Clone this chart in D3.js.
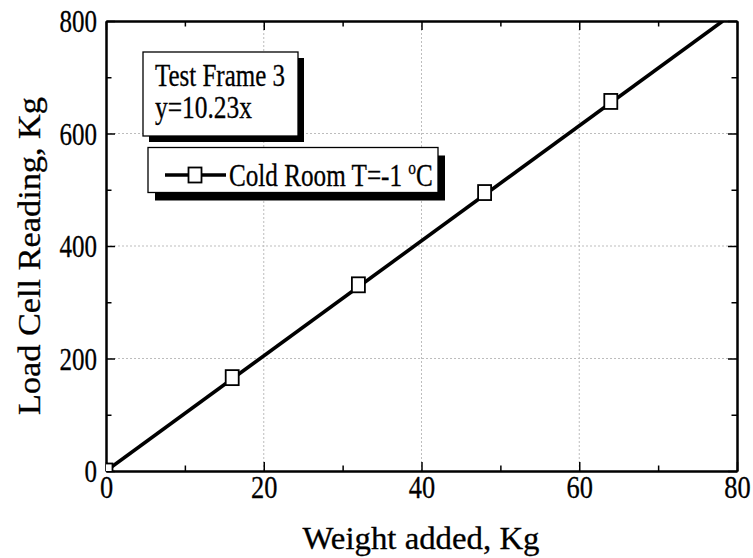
<!DOCTYPE html>
<html>
<head>
<meta charset="utf-8">
<script src="https://cdn.jsdelivr.net/npm/d3@7"></script>
<style>
  body { margin: 0; background: #fff; }
  text { font-family: "Liberation Serif", "Times New Roman", serif; fill: #000; stroke: #000; stroke-width: 0.3px; }
</style>
</head>
<body>
<div id="chart"></div>
<script>
// data
const weightAdded = [0, 16, 32, 48, 64];
const loadReading = [0, 166, 331, 495, 657];
const fitSlope = 10.23;
const xTicks = [0, 20, 40, 60, 80];
const xMinorTicks = [10, 30, 50, 70];
const yTicks = [0, 200, 400, 600, 800];
const yMinorTicks = [100, 300, 500, 700];
const xGrid = [20, 40, 60];
const yGrid = [200, 400, 600];

const width = 753;
const height = 558;
const margins = {top: 21, right: 16, bottom: 87, left: 106};
const chartWidth = width - margins.left - margins.right;
const chartHeight = height - margins.top - margins.bottom;
const serif = '"Liberation Serif", "Times New Roman", serif';

const svg = d3.select('#chart').append('svg')
  .attr('width', width)
  .attr('height', height);

const chart = svg.append('g')
  .attr('transform', `translate(${margins.left}, ${margins.top})`);

const xScale = d3.scaleLinear().domain([0, 80]).range([0, chartWidth]);
const yScale = d3.scaleLinear().domain([0, 800]).range([chartHeight, 0]);

chart.append('clipPath').attr('id', 'plot-clip')
  .append('rect')
  .attr('width', chartWidth)
  .attr('height', chartHeight);

/* dotted grid */
chart.selectAll('.grid-x')
  .data(xGrid)
  .enter()
  .append('line')
  .attr('x1', d => xScale(d)).attr('x2', d => xScale(d))
  .attr('y1', 0).attr('y2', chartHeight)
  .attr('stroke', '#bdbdbd').attr('stroke-width', 1).attr('stroke-dasharray', '2,2');

chart.selectAll('.grid-y')
  .data(yGrid)
  .enter()
  .append('line')
  .attr('x1', 0).attr('x2', chartWidth)
  .attr('y1', d => yScale(d)).attr('y2', d => yScale(d))
  .attr('stroke', '#bdbdbd').attr('stroke-width', 1).attr('stroke-dasharray', '2,2');

/* axes, ticks inward on all four sides */
const styleAxis = g => {
  g.attr('font-family', serif).attr('font-size', 31);
  g.select('.domain').attr('stroke-width', 2);
  g.selectAll('.tick line').attr('stroke-width', 1.5);
};

chart.append('g')
  .attr('transform', `translate(0, ${chartHeight})`)
  .call(d3.axisBottom(xScale).tickValues(xTicks).tickSize(-9).tickSizeOuter(0).tickPadding(4))
  .call(styleAxis)
  .call(g => g.selectAll('.tick text').attr('dy', '0.75em')
    .attr('textLength', d => String(d).length * 13.2).attr('lengthAdjust', 'spacingAndGlyphs'));

chart.append('g')
  .attr('transform', `translate(0, ${chartHeight})`)
  .call(d3.axisBottom(xScale).tickValues(xMinorTicks).tickSize(-5.5).tickSizeOuter(0).tickFormat(''))
  .call(styleAxis);

chart.append('g')
  .call(d3.axisLeft(yScale).tickValues(yTicks).tickSize(-9).tickSizeOuter(0).tickPadding(9))
  .call(styleAxis)
  .call(g => g.selectAll('.tick text').attr('dy', '0.35em')
    .attr('textLength', d => String(d).length * 12.5).attr('lengthAdjust', 'spacingAndGlyphs'));

chart.append('g')
  .call(d3.axisLeft(yScale).tickValues(yMinorTicks).tickSize(-5.5).tickSizeOuter(0).tickFormat(''))
  .call(styleAxis);

chart.append('g')
  .call(d3.axisTop(xScale).tickValues(xTicks).tickSize(-9).tickSizeOuter(0).tickFormat(''))
  .call(styleAxis);
chart.append('g')
  .call(d3.axisTop(xScale).tickValues(xMinorTicks).tickSize(-5.5).tickSizeOuter(0).tickFormat(''))
  .call(styleAxis);
chart.append('g')
  .attr('transform', `translate(${chartWidth}, 0)`)
  .call(d3.axisRight(yScale).tickValues(yTicks).tickSize(-9).tickSizeOuter(0).tickFormat(''))
  .call(styleAxis);
chart.append('g')
  .attr('transform', `translate(${chartWidth}, 0)`)
  .call(d3.axisRight(yScale).tickValues(yMinorTicks).tickSize(-5.5).tickSizeOuter(0).tickFormat(''))
  .call(styleAxis);

/* fit line and markers */
const plot = chart.append('g').attr('clip-path', 'url(#plot-clip)');

const fitX = [0, yScale.domain()[1] / fitSlope];
plot.append('path')
  .datum(fitX)
  .attr('fill', 'none')
  .attr('stroke', '#000')
  .attr('stroke-width', 3.6)
  .attr('d', d3.line().x(d => xScale(d)).y(d => yScale(d * fitSlope)));

const markerW = 13;
const markerH = 15;
plot.selectAll('.marker')
  .data(weightAdded.map((w, i) => ({x: w, y: loadReading[i]})))
  .enter()
  .append('rect')
  .attr('class', 'marker')
  .attr('x', d => xScale(d.x) - markerW / 2)
  .attr('y', d => yScale(d.y) - markerH / 2)
  .attr('width', markerW)
  .attr('height', markerH)
  .attr('fill', '#fff')
  .attr('stroke', '#000')
  .attr('stroke-width', 1.8);

/* axis titles */
svg.append('text')
  .attr('x', 421)
  .attr('y', 549)
  .attr('text-anchor', 'middle')
  .attr('font-size', 31)
  .attr('textLength', 237).attr('lengthAdjust', 'spacingAndGlyphs')
  .text('Weight added, Kg');

svg.append('text')
  .attr('transform', `translate(40, 256) rotate(-90)`)
  .attr('text-anchor', 'middle')
  .attr('font-size', 31)
  .attr('textLength', 318).attr('lengthAdjust', 'spacingAndGlyphs')
  .text('Load Cell Reading, Kg');

/* boxes with drop shadow */
const shadowBox = (x, y, w, h, dx, dy) => {
  svg.append('rect').attr('x', x + dx).attr('y', y + dy).attr('width', w).attr('height', h).attr('fill', '#000');
  svg.append('rect').attr('x', x).attr('y', y).attr('width', w).attr('height', h)
    .attr('fill', '#fff').attr('stroke', '#000').attr('stroke-width', 1.3);
};

shadowBox(143, 52, 155, 84, 6, 6);
svg.append('text').attr('x', 155).attr('y', 86).attr('font-size', 31)
  .attr('textLength', 130).attr('lengthAdjust', 'spacingAndGlyphs')
  .text('Test Frame 3');
svg.append('text').attr('x', 155).attr('y', 118).attr('font-size', 31)
  .attr('textLength', 97).attr('lengthAdjust', 'spacingAndGlyphs')
  .text(`y=${fitSlope}x`);

shadowBox(148, 147.5, 290, 45, 7, 8);
svg.append('line').attr('x1', 165).attr('x2', 226).attr('y1', 175).attr('y2', 175)
  .attr('stroke', '#000').attr('stroke-width', 3.6);
svg.append('rect').attr('x', 195 - markerW / 2).attr('y', 175 - markerH / 2)
  .attr('width', markerW).attr('height', markerH)
  .attr('fill', '#fff').attr('stroke', '#000').attr('stroke-width', 1.8);

const legendText = svg.append('text')
  .attr('font-size', 31);
legendText.append('tspan').text('Cold Room T=-1 ');
legendText.append('tspan').attr('font-size', 19).attr('dy', -12).text('o');
legendText.append('tspan').attr('dy', 12).text('C');
// squeeze the legend label to the width it has in the reference
const legendScale = 204 / legendText.node().getComputedTextLength();
legendText.attr('transform', `translate(229, 186) scale(${legendScale}, 1)`);
</script>
</body>
</html>
